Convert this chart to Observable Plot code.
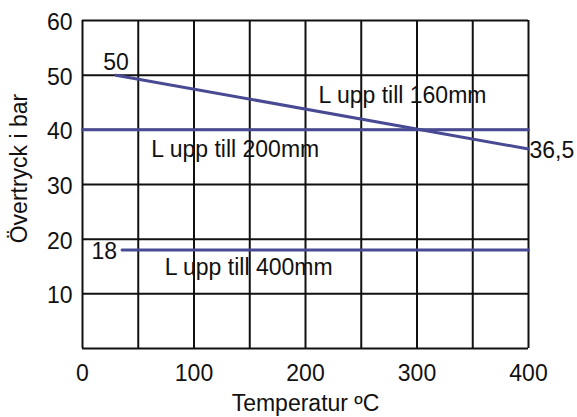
<!DOCTYPE html>
<html>
<head>
<meta charset="utf-8">
<script src="https://cdn.jsdelivr.net/npm/d3@7"></script>
<script src="https://cdn.jsdelivr.net/npm/@observablehq/plot@0.6"></script>
<style>
  html, body { margin: 0; padding: 0; background: #fff; }
  #chart { width: 577px; height: 417px; }
</style>
</head>
<body>
<div id="chart"></div>
<script>
// Series data
const seriesNames = ["L upp till 160mm", "L upp till 200mm", "L upp till 400mm"];
const temps160 = [30, 400];
const press160 = [50, 36.5];
const temps200 = [0, 400];
const press200 = [40, 40];
const temps400 = [35.5, 400];
const press400 = [18, 18];

// Tick values
const xTicks = [0, 100, 200, 300, 400];
const yTicks = [10, 20, 30, 40, 50, 60];
const xGrid = [0, 50, 100, 150, 200, 250, 300, 350, 400];
const yGrid = [0, 10, 20, 30, 40, 50, 60];

// Annotations (text, x, y)
const annotText = ["L upp till 160mm", "L upp till 200mm", "L upp till 400mm", "50", "36,5", "18"];
const annotX = [287, 137, 149, 30, 400, 35.5];
const annotY = [46.3, 36.3, 14.8, 50, 36.5, 18];

const lines = [];
[[temps160, press160, seriesNames[0]], [temps200, press200, seriesNames[1]], [temps400, press400, seriesNames[2]]]
  .forEach(([t, p, s]) => t.forEach((tt, i) => lines.push({t: tt, p: p[i], s})));

const ann = annotText.map((text, i) => ({text, x: annotX[i], y: annotY[i]}));
const font = "'Liberation Sans', Arial, sans-serif";
const blue = "#484b93";
const fs = 23;

const chart = Plot.plot({
  width: 577,
  height: 417,
  marginLeft: 82,
  marginRight: 49,
  marginTop: 20,
  marginBottom: 69,
  style: {fontFamily: font, fontSize: fs + "px", color: "#111", background: "#fff"},
  x: {domain: [0, 400]},
  y: {domain: [0, 60]},
  marks: [
    Plot.ruleX(xGrid, {stroke: "#111", strokeWidth: 2}),
    Plot.ruleY(yGrid, {stroke: "#111", strokeWidth: 2}),
    Plot.axisX(xTicks, {tickSize: 0, tickPadding: 16, label: null, fontSize: fs, fill: "#111"}),
    Plot.axisY(yTicks, {tickSize: 0, tickPadding: 10, dy: 2, label: null, fontSize: fs, fill: "#111"}),
    Plot.line(lines, {x: "t", y: "p", z: "s", stroke: blue, strokeWidth: 3}),
    Plot.text([ann[0], ann[1], ann[2]], {x: "x", y: "y", text: "text", fontSize: fs, fill: "#111"}),
    Plot.text([ann[3]], {x: "x", y: "y", text: "text", fontSize: fs, fill: "#111", dy: -12.5}),
    Plot.text([ann[4]], {x: "x", y: "y", text: "text", fontSize: fs, fill: "#111", textAnchor: "start", dx: 1, dy: 1.5}),
    Plot.text([ann[5]], {x: "x", y: "y", text: "text", fontSize: fs, fill: "#111", textAnchor: "end", dx: -5, dy: 2}),
    Plot.text(["Temperatur ºC"], {frameAnchor: "bottom", textAnchor: "middle", lineAnchor: "middle", text: d => d, dy: 55, fontSize: fs, fill: "#111"}),
    Plot.text(["Övertryck i bar"], {frameAnchor: "left", textAnchor: "middle", lineAnchor: "middle", text: d => d, rotate: -90, dx: -63, dy: -16, fontSize: fs, fill: "#111"})
  ]
});
document.getElementById("chart").appendChild(chart);
</script>
</body>
</html>
